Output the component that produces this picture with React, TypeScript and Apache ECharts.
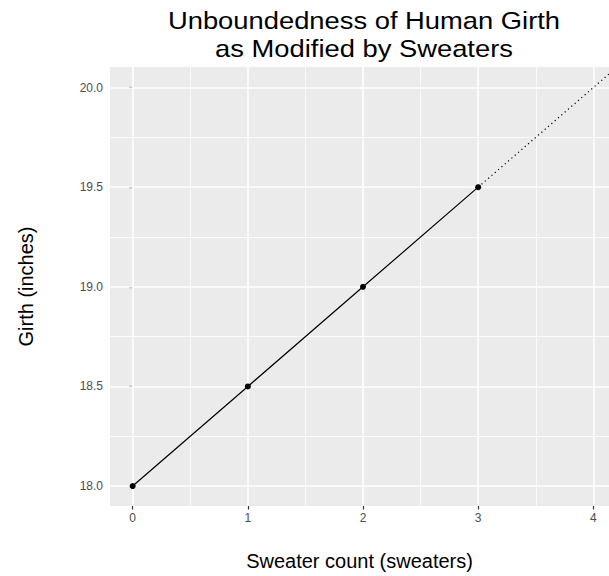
import React, { useEffect, useRef } from "react";
import * as echarts from "echarts";

const titleLines = ["Unboundedness of Human Girth", "as Modified by Sweaters"];
const xTitle = "Sweater count (sweaters)";
const yTitle = "Girth (inches)";

const sweaters = [0, 1, 2, 3];
const girth = [18.0, 18.5, 19.0, 19.5];
const projectionX = [3, 4.2];
const projectionY = [19.5, 20.1];

const xTicks = [0, 1, 2, 3, 4];
const xMinor = [0.5, 1.5, 2.5, 3.5];
const yTicks = [18.0, 18.5, 19.0, 19.5, 20.0];
const yMinor = [18.25, 18.75, 19.25, 19.75];

const xRange = [-0.197, 4.136];
const yRange = [17.9, 20.103];

export default function App() {
  const ref = useRef<HTMLDivElement>(null);
  useEffect(() => {
    if (!ref.current) return;
    const chart = echarts.init(ref.current, null, { renderer: "svg" });
    const font = "Liberation Sans, Arial, Helvetica, sans-serif";
    const major = { lineStyle: { color: "#FFFFFF", width: 1.6, type: "solid" } };
    const minor = { lineStyle: { color: "#FFFFFF", width: 0.8, type: "solid" } };
    const gridLines = [
      ...xMinor.map((v) => ({ xAxis: v, ...minor })),
      ...yMinor.map((v) => ({ yAxis: v, ...minor })),
      ...xTicks.map((v) => ({ xAxis: v, ...major })),
      ...yTicks.map((v) => ({ yAxis: v, ...major })),
    ];
    chart.setOption({
      animation: false,
      backgroundColor: "#FFFFFF",
      textStyle: { fontFamily: font },
      graphic: titleLines.map((t, i) => ({
        type: "text",
        x: 364,
        y: 21 + i * 28,
        scaleX: 1.14,
        z: 10,
        style: {
          text: t,
          x: 0,
          y: 0,
          align: "center",
          verticalAlign: "middle",
          fontFamily: font,
          fontSize: 24,
          fill: "#000000",
        },
      })),
      grid: {
        left: 110,
        top: 67,
        right: 0,
        bottom: 65,
        show: true,
        backgroundColor: "#EBEBEB",
        borderWidth: 0,
      },
      xAxis: {
        type: "value",
        min: xRange[0],
        max: xRange[1],
        name: xTitle,
        nameLocation: "middle",
        nameGap: 45,
        nameTextStyle: { fontFamily: font, fontSize: 20, color: "#000000" },
        axisLine: { show: false },
        axisTick: {
          show: true,
          customValues: xTicks,
          length: 3.5,
          lineStyle: { color: "#333333", width: 1.2 },
        },
        axisLabel: {
          customValues: xTicks,
          margin: 6,
          fontSize: 12,
          color: "#4D4D4D",
          fontFamily: font,
          formatter: (v: number) => String(v),
        },
        splitLine: { show: false },
      },
      yAxis: {
        type: "value",
        min: yRange[0],
        max: yRange[1],
        name: yTitle,
        nameLocation: "middle",
        nameGap: 74,
        nameTextStyle: { fontFamily: font, fontSize: 20, color: "#000000" },
        axisLine: { show: false },
        axisTick: {
          show: true,
          customValues: yTicks,
          length: 3.5,
          lineStyle: { color: "#333333", width: 1.2 },
        },
        axisLabel: {
          customValues: yTicks,
          margin: 7,
          fontSize: 12,
          color: "#4D4D4D",
          fontFamily: font,
          formatter: (v: number) => v.toFixed(1),
        },
        splitLine: { show: false },
      },
      series: [
        {
          type: "line",
          z: 1,
          silent: true,
          data: [],
          markLine: {
            z: 1,
            silent: true,
            symbol: ["none", "none"],
            label: { show: false },
            emphasis: { disabled: true },
            animation: false,
            data: gridLines,
          },
        },
        {
          type: "line",
          z: 3,
          silent: true,
          clip: true,
          showSymbol: false,
          data: projectionX.map((x, i) => [x, projectionY[i]]),
          lineStyle: { color: "#000000", width: 1.2, type: [1.2, 3.2] },
        },
        {
          type: "line",
          z: 4,
          silent: true,
          data: sweaters.map((x, i) => [x, girth[i]]),
          symbol: "circle",
          symbolSize: 6,
          itemStyle: { color: "#000000", borderWidth: 0 },
          lineStyle: { color: "#000000", width: 1.2 },
        },
      ],
    });
    return () => chart.dispose();
  }, []);
  return (
    <div
      ref={ref}
      style={{ position: "fixed", left: 0, top: 0, width: 609, height: 576 }}
    />
  );
}
